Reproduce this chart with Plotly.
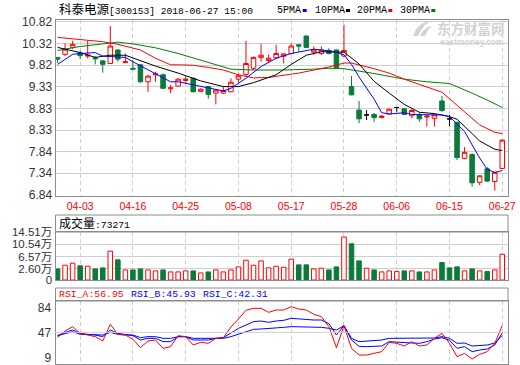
import plotly.graph_objects as go

W, H = 520, 365


def fx(px):
    return px / W


def fy(py):
    return 1 - py / H


# ---------------- data ----------------
stock_title = "科泰电源[300153] 2018-06-27 15:00"

dates = ["03-29", "03-30", "04-02", "04-03", "04-04", "04-09", "04-10", "04-11", "04-12", "04-13",
         "04-16", "04-17", "04-18", "04-19", "04-20", "04-23", "04-24", "04-25", "04-26", "04-27",
         "05-02", "05-03", "05-04", "05-07", "05-08", "05-09", "05-10", "05-11", "05-14", "05-15",
         "05-16", "05-17", "05-18", "05-21", "05-22", "05-23", "05-24", "05-25", "05-28", "05-29",
         "05-30", "05-31", "06-01", "06-04", "06-05", "06-06", "06-07", "06-08", "06-11", "06-12",
         "06-13", "06-14", "06-15", "06-19", "06-20", "06-21", "06-22", "06-25", "06-26", "06-27"]

opens = [10.00, 10.07, 10.23, 10.10, 10.03, 9.99, 9.92, 9.86, 10.17, 9.88,
         9.75, 9.83, 9.44, 9.60, 9.60, 9.28, 9.34, 9.47, 9.52, 9.22,
         9.33, 9.18, 9.18, 9.21, 9.50, 9.61, 9.75, 10.00, 9.93, 9.99,
         10.03, 10.09, 10.29, 10.49, 10.12, 10.09, 10.16, 10.17, 10.03, 9.33,
         8.79, 8.68, 8.69, 8.62, 8.70, 8.85, 8.82, 8.66, 8.68, 8.63,
         8.60, 9.00, 8.59, 8.51, 7.68, 7.77, 7.13, 7.44, 7.15, 7.45]
highs = [10.01, 10.32, 10.38, 10.15, 10.38, 10.03, 9.94, 10.72, 10.19, 10.09,
         9.94, 9.84, 9.60, 9.67, 9.63, 9.37, 9.52, 9.57, 9.54, 9.29,
         9.34, 9.26, 9.33, 9.52, 9.63, 10.38, 10.02, 10.31, 10.06, 10.29,
         10.09, 10.32, 10.30, 10.50, 10.25, 10.25, 10.21, 10.18, 10.75, 9.57,
         9.00, 8.79, 8.72, 8.68, 8.81, 8.85, 8.84, 8.81, 8.73, 8.68,
         8.68, 9.11, 8.68, 8.52, 7.94, 7.80, 7.29, 7.48, 7.36, 8.12]
lows = [9.87, 10.03, 10.19, 9.96, 9.98, 9.84, 9.65, 9.85, 9.90, 9.87,
        9.71, 9.42, 9.21, 9.44, 9.28, 9.18, 9.33, 9.41, 9.20, 9.21,
        9.05, 8.92, 9.16, 9.20, 9.42, 9.56, 9.71, 9.90, 9.89, 9.96,
        9.86, 10.07, 10.13, 10.22, 10.06, 10.06, 10.07, 9.73, 10.02, 9.13,
        8.49, 8.56, 8.52, 8.60, 8.69, 8.75, 8.68, 8.60, 8.52, 8.41,
        8.41, 8.75, 8.42, 7.64, 7.66, 7.03, 7.07, 7.14, 6.94, 7.44]
closes = [9.96, 10.19, 10.30, 10.04, 10.05, 9.97, 9.84, 10.26, 9.96, 9.90,
          9.73, 9.44, 9.57, 9.62, 9.29, 9.30, 9.50, 9.50, 9.21, 9.27,
          9.15, 9.25, 9.24, 9.43, 9.58, 9.86, 10.00, 10.05, 9.98, 10.09,
          10.08, 10.26, 10.26, 10.23, 10.17, 10.17, 10.09, 9.76, 10.16, 9.14,
          8.59, 8.68, 8.62, 8.65, 8.81, 8.85, 8.69, 8.78, 8.59, 8.65,
          8.68, 8.78, 8.59, 7.70, 7.82, 7.12, 7.28, 7.16, 7.36, 8.10]

# volume in 万手
volumes = [2.62, 3.81, 4.46, 3.60, 3.49, 2.62, 2.95, 8.35, 5.54, 2.30,
           2.30, 2.62, 2.30, 1.98, 2.30, 1.65, 1.65, 1.98, 1.98, 1.33,
           1.65, 2.30, 1.65, 2.30, 3.27, 5.43, 3.81, 5.20, 2.95, 3.49,
           3.16, 5.76, 3.92, 3.92, 2.62, 2.84, 2.30, 3.27, 12.90, 10.72,
           5.20, 2.84, 2.30, 1.65, 1.98, 1.76, 1.98, 1.98, 1.65, 1.65,
           2.30, 4.68, 2.95, 3.27, 1.98, 2.62, 1.98, 1.76, 2.30, 7.3271]

ma5_dates = ["03-29", "04-02", "04-03", "04-09", "04-10", "04-11", "04-13", "04-16", "04-18", "04-19",
             "04-23", "04-24", "04-26", "05-02", "05-04", "05-07", "05-09", "05-11", "05-15", "05-17",
             "05-22", "05-24", "05-25", "05-28", "05-29", "05-30", "05-31", "06-01", "06-04", "06-05",
             "06-07", "06-08", "06-13", "06-14", "06-15", "06-19", "06-20", "06-21", "06-22", "06-25",
             "06-26", "06-27"]
ma5_vals = [9.84, 10.07, 10.09, 10.11, 10.03, 10.02, 10.00, 9.90, 9.71, 9.62,
            9.44, 9.44, 9.37, 9.29, 9.23, 9.29, 9.52, 9.79, 9.98, 10.09,
            10.19, 10.15, 10.12, 10.06, 9.84, 9.55, 9.28, 9.04, 8.73, 8.70,
            8.73, 8.69, 8.68, 8.68, 8.64, 8.47, 8.30, 7.99, 7.69, 7.43,
            7.36, 7.40]

ma10_dates = ["03-29", "04-02", "04-03", "04-09", "04-11", "04-13", "04-17", "04-19", "04-24", "04-27",
              "05-04", "05-08", "05-10", "05-15", "05-17", "05-21", "05-23", "05-25", "05-28", "05-30",
              "06-01", "06-05", "06-07", "06-11", "06-13", "06-15", "06-19", "06-21", "06-22", "06-26",
              "06-27"]
ma10_vals = [10.23, 10.16, 10.11, 10.00, 10.05, 10.05, 9.93, 9.80, 9.64, 9.46,
             9.33, 9.33, 9.42, 9.60, 9.84, 10.05, 10.13, 10.13, 10.12, 9.85,
             9.45, 9.18, 8.92, 8.74, 8.71, 8.64, 8.58, 8.25, 8.08, 7.89,
             7.86]

ma20_dates = ["03-29", "04-03", "04-10", "04-12", "04-17", "04-19", "04-23", "04-24", "04-26", "05-02",
              "05-04", "05-08", "05-10", "05-14", "05-16", "05-18", "05-22", "05-24", "05-28", "05-29",
              "06-01", "06-05", "06-07", "06-12", "06-14", "06-15", "06-20", "06-22", "06-26", "06-27"]
ma20_vals = [10.46, 10.415, 10.36, 10.30, 10.17, 9.98, 9.83, 9.83, 9.82, 9.77,
             9.71, 9.60, 9.53, 9.54, 9.59, 9.64, 9.71, 9.78, 9.87, 9.87,
             9.74, 9.64, 9.50, 9.33, 9.20, 9.05, 8.76, 8.45, 8.28, 8.25]

ma30_dates = ["03-29", "04-03", "04-10", "04-12", "04-16", "04-19", "04-24", "05-02", "05-07", "05-10",
              "05-16", "05-22", "05-24", "05-28", "06-01", "06-07", "06-12", "06-15", "06-19", "06-21",
              "06-25", "06-27"]
ma30_vals = [10.16, 10.25, 10.31, 10.35, 10.31, 10.22, 10.09, 9.88, 9.73, 9.71,
             9.71, 9.73, 9.75, 9.74, 9.63, 9.50, 9.44, 9.40, 9.33, 9.18,
             9.02, 8.85]

rsi_a = [39.5, 49, 55.5, 45.5, 43, 40.5, 34, 59, 44, 43,
         36.5, 24, 34, 35.5, 23, 25.5, 42, 40.5, 28, 32,
         30.5, 38, 39, 55, 67, 80, 83, 83, 77, 80.5,
         80.5, 85.5, 82, 80.5, 74, 70.5, 55.5, 24, 57, 23,
         13, 13, 15.5, 18, 32, 30.5, 26.5, 33, 26.5, 28,
         38, 45.5, 30.5, 10.5, 15.5, 7, 14, 18, 30.5, 56.95]
rsi_b = [42, 47, 50.5, 45.5, 44, 43, 40.5, 50.5, 45.5, 44,
         42, 35.5, 38, 38, 33, 33, 40.5, 40.5, 35.5, 35.5,
         35.5, 38, 39, 46, 53, 58, 63, 64, 62, 64,
         65, 68, 67, 66, 65.5, 65.5, 60, 43, 57, 35.5,
         26, 25.5, 26, 26.5, 33, 32, 32, 31, 30.5, 33,
         37, 39, 35, 23, 25.5, 18, 20.5, 22, 28, 45.93]
rsi_c = [42, 45.5, 48, 44, 44, 44, 43, 47, 44, 43,
         43, 39, 40.5, 40.5, 38, 38, 40.5, 40.5, 38, 38,
         38, 38, 38, 40.5, 44, 48, 51.5, 52, 52.5, 53.5,
         54.5, 55.5, 55.5, 55, 55, 54.5, 53, 50.5, 57, 38,
         33, 33.5, 34.5, 35.5, 38, 38, 38, 37.5, 37.5, 38,
         38.5, 40.5, 38, 30.5, 31, 26.5, 27.5, 28, 31, 42.31]

tick_dates = ["04-03", "04-16", "04-25", "05-08", "05-17", "05-28", "06-06", "06-15", "06-27"]
price_ticks = [6.84, 7.34, 7.84, 8.33, 8.83, 9.33, 9.82, 10.32, 10.82]
vol_ticks = [2.60, 6.57, 10.54, 14.51]
rsi_ticks = [9, 47, 84]

# ---------------- style ----------------
RED = "#ff0000"
GREEN = "#0a7b3b"
BLUE = "#0000ff"
FRAME = "#8c8c8c"
GRID = "#cfcfcf"
WM = "#d2d2d2"
VOL_FLOOR = -0.95
X_RANGE = [-0.27, 59.76]
MONO = "Liberation Mono, Noto Sans CJK SC"
SANS = "Liberation Sans, Noto Sans CJK SC"

n = len(dates)
fig = go.Figure()

body = [i for i in range(n) if opens[i] != closes[i]]
doji = [i for i in range(n) if opens[i] == closes[i]]

fig.add_trace(go.Candlestick(
    x=[dates[i] for i in body], open=[opens[i] for i in body], high=[highs[i] for i in body],
    low=[lows[i] for i in body], close=[closes[i] for i in body],
    increasing=dict(line=dict(color=RED, width=1), fillcolor="white"),
    decreasing=dict(line=dict(color=GREEN, width=1), fillcolor=GREEN),
    whiskerwidth=0, xaxis="x", yaxis="y", hoverinfo="skip"))
fig.add_trace(go.Candlestick(
    x=[dates[i] for i in doji], open=[opens[i] for i in doji], high=[highs[i] for i in doji],
    low=[lows[i] for i in doji], close=[closes[i] for i in doji],
    increasing=dict(line=dict(color="black", width=1), fillcolor="black"),
    decreasing=dict(line=dict(color="black", width=1), fillcolor="black"),
    whiskerwidth=0, xaxis="x", yaxis="y", hoverinfo="skip"))

for xs, ys, col in [(ma30_dates, ma30_vals, "#008000"), (ma20_dates, ma20_vals, RED),
                    (ma10_dates, ma10_vals, "black"), (ma5_dates, ma5_vals, BLUE)]:
    fig.add_trace(go.Scatter(x=xs, y=ys, mode="lines", line=dict(color=col, width=1),
                             xaxis="x", yaxis="y", hoverinfo="skip"))

# volume colours
vol_up = []
for i in range(n):
    if closes[i] > opens[i]:
        vol_up.append(True)
    elif closes[i] < opens[i]:
        vol_up.append(False)
    else:
        vol_up.append(i == 0 or closes[i] >= closes[i - 1])
fig.add_trace(go.Bar(
    x=dates, y=[v - VOL_FLOOR for v in volumes], base=VOL_FLOOR, width=0.6,
    marker=dict(color=["white" if u else GREEN for u in vol_up],
                line=dict(color=[RED if u else GREEN for u in vol_up], width=1)),
    xaxis="x2", yaxis="y2", hoverinfo="skip"))

for ys, col in [(rsi_c, BLUE), (rsi_b, BLUE), (rsi_a, RED)]:
    fig.add_trace(go.Scatter(x=dates, y=ys, mode="lines", line=dict(color=col, width=1),
                             xaxis="x3", yaxis="y3", hoverinfo="skip"))

L, R = 55.5, 508
xcommon = dict(type="category", categoryorder="array", categoryarray=dates, range=X_RANGE,
               tickvals=tick_dates, showgrid=True, gridcolor=GRID, griddash="4px,3px", gridwidth=1,
               showline=True, linecolor=FRAME, linewidth=1, mirror=True, ticks="", zeroline=False,
               domain=[fx(L), fx(R)], fixedrange=True, automargin=False)
ycommon = dict(showline=True, linecolor=FRAME, linewidth=1, mirror=True, ticks="", zeroline=False,
               gridcolor=GRID, gridwidth=1, fixedrange=True, automargin=False,
               tickfont=dict(family=SANS, size=12, color="#333333"))

fig.update_layout(
    width=W, height=H, margin=dict(l=0, r=0, t=0, b=0, pad=0), autosize=False,
    paper_bgcolor="white", plot_bgcolor="white", showlegend=False, hovermode=False,
    boxgap=0.25, boxgroupgap=0.2, bargap=0.2,
    font=dict(family=SANS, size=12, color="#333333"),
    xaxis=dict(xcommon, anchor="y", rangeslider=dict(visible=False), showticklabels=True,
               ticktext=tick_dates, tickfont=dict(family=SANS, size=10.5, color=RED)),
    yaxis=dict(ycommon, anchor="x", domain=[fy(196), fy(20)], range=[6.817, 10.859],
               tickvals=price_ticks, ticktext=[f"{v:.2f}" for v in price_ticks]),
    xaxis2=dict(xcommon, anchor="y2", showticklabels=False, rangeslider=dict(visible=False)),
    yaxis2=dict(ycommon, anchor="x2", domain=[fy(280), fy(232)], range=[VOL_FLOOR, vol_ticks[-1]],
                tickvals=[VOL_FLOOR] + vol_ticks,
                ticktext=["0"] + [f"{v:.2f}万" for v in vol_ticks],
                tickfont=dict(family=SANS, size=11.5, color="#333333")),
    xaxis3=dict(xcommon, anchor="y3", showticklabels=False, rangeslider=dict(visible=False)),
    yaxis3=dict(ycommon, anchor="x3", domain=[fy(364), fy(301)], range=[-0.5, 94],
                tickvals=rsi_ticks, ticktext=[str(v) for v in rsi_ticks], showgrid=False,
                ticklabelstandoff=1),
)


def ppath(points):
    """SVG path in paper coordinates from pixel points (decoration only)."""
    s = "M " + " L ".join(f"{fx(a):.5f},{fy(b):.5f}" for a, b in points) + " Z"
    return s


shapes = [
    dict(type="rect", xref="paper", yref="paper", x0=fx(L), x1=fx(R), y0=fy(232), y1=fy(215),
         line=dict(color=FRAME, width=1)),
    dict(type="rect", xref="paper", yref="paper", x0=fx(L), x1=fx(R), y0=fy(301), y1=fy(288),
         line=dict(color=FRAME, width=1)),
    dict(type="line", xref="x3 domain", yref="y3", x0=0, x1=1, y0=rsi_ticks[1], y1=rsi_ticks[1],
         line=dict(color=GRID, width=1)),
    # watermark swirl logo
    dict(type="path", xref="paper", yref="paper", layer="above",
         path=ppath([(413, 36), (416, 29), (421, 24), (428, 21), (431, 21), (425, 25),
                     (421, 30), (418, 36)]),
         fillcolor=WM, line=dict(width=0)),
    dict(type="path", xref="paper", yref="paper", layer="above",
         path=ppath([(420, 36), (423, 31), (428, 27), (432, 26), (428, 30), (425, 36)]),
         fillcolor=WM, line=dict(width=0)),
]
legend_items = [("5PMA", 275, 302.7, BLUE), ("10PMA", 313, 346, "black"),
                ("20PMA", 355, 388.3, RED), ("30PMA", 398, 431.3, "#008000")]
annotations = [
    dict(text="<b>东方财富网</b>", x=fx(471), y=fy(28), xref="paper", yref="paper",
         xanchor="center", yanchor="middle", showarrow=False,
         font=dict(family="Noto Sans CJK SC", size=13.5, color=WM)),
    dict(text="<b>eastmoney.com</b>", x=fx(472), y=fy(41.7), xref="paper", yref="paper",
         xanchor="center", yanchor="middle", showarrow=False,
         font=dict(family="Liberation Sans", size=8.5, color=WM)),
    dict(text='<span style="font-size:12.5px">科泰电源</span>[300153] 2018-06-27 15:00',
         x=fx(57), y=fy(10.5), xref="paper", yref="paper", xanchor="left", yanchor="middle",
         showarrow=False, font=dict(family=MONO, size=9.6, color="black")),
    dict(text=f'<span style="font-size:12px">成交量</span>:{round(volumes[-1] * 10000)}',
         x=fx(57), y=fy(224), xref="paper", yref="paper", xanchor="left", yanchor="middle",
         showarrow=False, font=dict(family=MONO, size=9.7, color="black")),
    dict(text=f"RSI_A:{rsi_a[-1]:.2f}", x=fx(57), y=fy(294.5), xref="paper", yref="paper",
         xanchor="left", yanchor="middle", showarrow=False, font=dict(family=MONO, size=9.8, color=RED)),
    dict(text=f"RSI_B:{rsi_b[-1]:.2f}", x=fx(129), y=fy(294.5), xref="paper", yref="paper",
         xanchor="left", yanchor="middle", showarrow=False, font=dict(family=MONO, size=9.8, color=BLUE)),
    dict(text=f"RSI_C:{rsi_c[-1]:.2f}", x=fx(201), y=fy(294.5), xref="paper", yref="paper",
         xanchor="left", yanchor="middle", showarrow=False, font=dict(family=MONO, size=9.8, color=BLUE)),
]
for label, tx, sx, col in legend_items:
    annotations.append(dict(text=label, x=fx(tx), y=fy(10.5), xref="paper", yref="paper",
                            xanchor="left", yanchor="middle", showarrow=False,
                            font=dict(family=MONO, size=10, color="black")))
    shapes.append(dict(type="rect", xref="paper", yref="paper", x0=fx(sx), x1=fx(sx + 4),
                       y0=fy(12), y1=fy(9), fillcolor=col, line=dict(width=0)))

fig.update_layout(shapes=shapes, annotations=annotations)
fig.write_html("out.html", config={"displayModeBar": False},
               post_script="document.body.style.margin='0';document.body.style.overflow='hidden';")
